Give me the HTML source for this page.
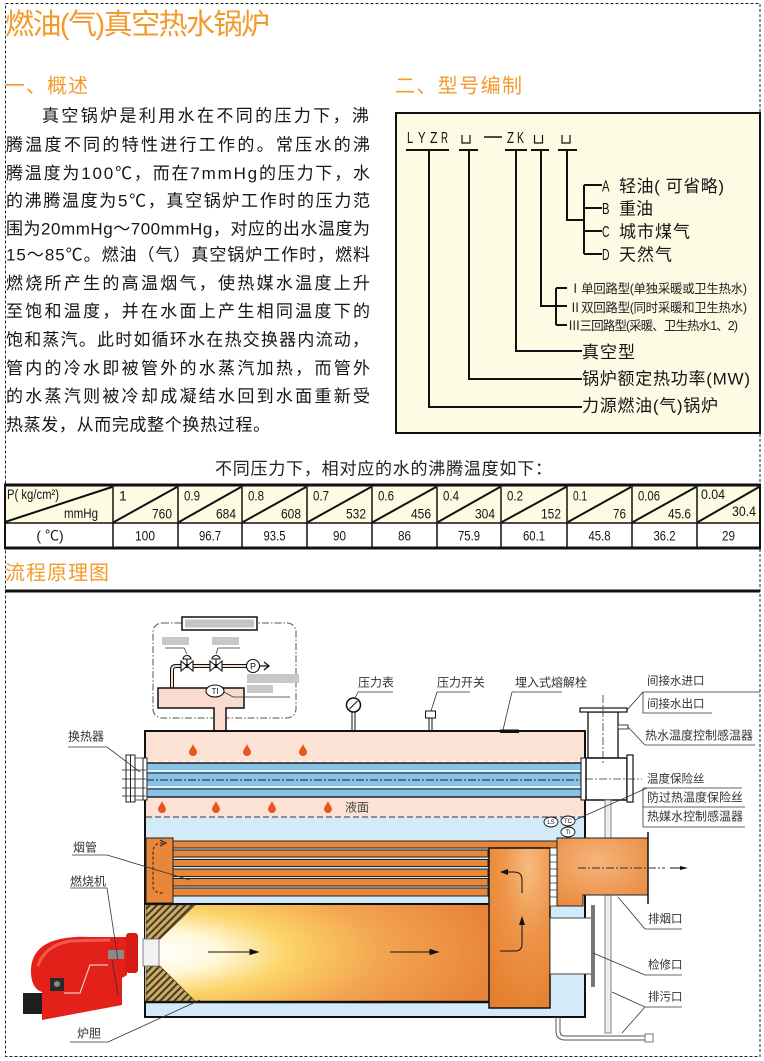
<!DOCTYPE html>
<html><head><meta charset="utf-8">
<style>
html,body{margin:0;padding:0;background:#fff;width:764px;height:1061px;overflow:hidden}
svg{display:block}
text{font-family:'Liberation Sans','Noto Sans CJK SC',sans-serif}
.b{font-size:17px;fill:#161616}
.h{fill:#f39a2c}
.s{font-size:12px;fill:#333}
.m{font-size:17px;fill:#151515}
.t{font-size:14px;fill:#151515}
.ld{stroke:#333;stroke-width:.8;fill:none}
</style></head><body>
<svg width="764" height="1061" viewBox="0 0 764 1061" xmlns="http://www.w3.org/2000/svg">
<defs>
<pattern id="hat" width="5" height="5" patternUnits="userSpaceOnUse" patternTransform="rotate(45)">
<rect width="5" height="5" fill="#c9ab6a"/>
<line x1="1" y1="0" x2="1" y2="5" stroke="#4a3a1a" stroke-width="2"/>
</pattern>
<radialGradient id="fl" gradientUnits="userSpaceOnUse" cx="160" cy="952" r="340" gradientTransform="translate(160 952) scale(1 0.33) translate(-160 -952)">
<stop offset="0" stop-color="#ffffff"/>
<stop offset="0.18" stop-color="#fff7d8"/>
<stop offset="0.38" stop-color="#fbd467"/>
<stop offset="0.65" stop-color="#f3a550"/>
<stop offset="1" stop-color="#e8843a"/>
</radialGradient>
<radialGradient id="rc" cx="0.65" cy="0.12" r="0.95">
<stop offset="0" stop-color="#f7bc80"/>
<stop offset="0.45" stop-color="#ee9448"/>
<stop offset="1" stop-color="#e5802f"/>
</radialGradient>
<radialGradient id="ot" cx="0.45" cy="0.35" r="0.8">
<stop offset="0" stop-color="#f5b57c"/>
<stop offset="1" stop-color="#e8873a"/>
</radialGradient>
</defs>

<rect x="5.5" y="3.5" width="754.5" height="1053" fill="none" stroke="#222" stroke-width="1" stroke-dasharray="3,2"/>

<text class="h" x="5" y="34" font-size="29" textLength="265">燃油(气)真空热水锅炉</text>
<text class="h" x="5" y="92.5" font-size="20" textLength="83">一、概述</text>
<text class="h" x="395" y="92.5" font-size="20" textLength="127">二、型号编制</text>

<text class="b" x="42" y="121.5" textLength="327">真空锅炉是利用水在不同的压力下，沸</text>
<text class="b" x="6" y="150.5" textLength="364">腾温度不同的特性进行工作的。常压水的沸</text>
<text class="b" x="6" y="179" textLength="364">腾温度为100℃，而在7mmHg的压力下，水</text>
<text class="b" x="6" y="206.5" textLength="364">的沸腾温度为5℃，真空锅炉工作时的压力范</text>
<text class="b" x="6" y="234.5" textLength="364">围为20mmHg～700mmHg，对应的出水温度为</text>
<text class="b" x="6" y="260.5" textLength="364">15～85℃。燃油（气）真空锅炉工作时，燃料</text>
<text class="b" x="6" y="289" textLength="364">燃烧所产生的高温烟气，使热媒水温度上升</text>
<text class="b" x="6" y="317" textLength="364">至饱和温度，并在水面上产生相同温度下的</text>
<text class="b" x="6" y="345.5" textLength="363">饱和蒸汽。此时如循环水在热交换器内流动，</text>
<text class="b" x="6" y="374" textLength="364">管内的冷水即被管外的水蒸汽加热，而管外</text>
<text class="b" x="6" y="402" textLength="364">的水蒸汽则被冷却成凝结水回到水面重新受</text>
<text class="b" x="6" y="430.5" textLength="264">热蒸发，从而完成整个换热过程。</text>

<rect x="396" y="113" width="364" height="320" fill="#fdfbe4" stroke="#111" stroke-width="2"/>
<g font-size="16" fill="#111">
<text x="407" y="143" textLength="6" lengthAdjust="spacingAndGlyphs">L</text>
<text x="418" y="143" textLength="7.5" lengthAdjust="spacingAndGlyphs">Y</text>
<text x="430" y="143" textLength="7.5" lengthAdjust="spacingAndGlyphs">Z</text>
<text x="441" y="143" textLength="7" lengthAdjust="spacingAndGlyphs">R</text>
<text x="507" y="143" textLength="7" lengthAdjust="spacingAndGlyphs">Z</text>
<text x="517" y="143" textLength="7" lengthAdjust="spacingAndGlyphs">K</text>
</g>
<g stroke="#111" fill="none">
<path d="M462 135V143H470V135M534.5 135V143H542.5V135M562 135V143H570V135" stroke-width="1.2"/>
<line x1="484" y1="137" x2="502" y2="137" stroke-width="1.5"/>
<path d="M406 150H449M459 150H478M505 150H527M531 150H549M558 150H577" stroke-width="2"/>
<path d="M429 150V407H582M469 150V379H582M516 150V351H582M541 150V306H556M556 288V325M556 288H567M556 306H567M556 325H567M567 150V220H584M584 185V254M584 185H602M584 208H602M584 231H602M584 254H602" stroke-width="2"/>
</g>
<g font-size="16" fill="#111">
<text x="602" y="191.5" textLength="7.5" lengthAdjust="spacingAndGlyphs">A</text>
<text x="602" y="214" textLength="7.5" lengthAdjust="spacingAndGlyphs">B</text>
<text x="602" y="237" textLength="7.5" lengthAdjust="spacingAndGlyphs">C</text>
<text x="602" y="260" textLength="7.5" lengthAdjust="spacingAndGlyphs">D</text>
</g>
<text class="m" x="619" y="192" textLength="105">轻油( 可省略)</text>
<text class="m" x="619" y="214.5">重油</text>
<text class="m" x="619" y="237.5" textLength="71">城市煤气</text>
<text class="m" x="619" y="260.5" textLength="53">天然气</text>
<g font-size="12.5" fill="#222">
<text x="569" y="292.8" textLength="178">Ⅰ单回路型(单独采暖或卫生热水)</text>
<text x="569" y="311.8" textLength="178">Ⅱ双回路型(同时采暖和卫生热水)</text>
<text x="568" y="329.8" textLength="170">Ⅲ三回路型(采暖、卫生热水1、2)</text>
</g>
<text class="m" x="582" y="358" textLength="53">真空型</text>
<text class="m" x="582" y="384.5" textLength="168">锅炉额定热功率(MW)</text>
<text class="m" x="582" y="411.5" textLength="136">力源燃油(气)锅炉</text>

<text x="215" y="474.5" font-size="17" fill="#222" textLength="337">不同压力下，相对应的水的沸腾温度如下：</text>

<rect x="4.5" y="485" width="755.5" height="38" fill="#fdfbe2"/>
<g stroke="#111" fill="none">
<line x1="4" y1="485" x2="761" y2="485" stroke-width="3"/>
<line x1="4" y1="548" x2="761" y2="548" stroke-width="3"/>
<line x1="4" y1="523" x2="761" y2="523" stroke-width="1.5"/>
<path d="M5 485V548M760 485V548" stroke-width="2"/>
<path d="M113 485V548M178 485V548M242 485V548M307 485V548M372 485V548M437 485V548M501 485V548M567 485V548M632 485V548M697 485V548" stroke-width="1.5"/>
<path d="M5 522L112 487M114 522L177 487M179 522L241 487M243 522L306 487M308 522L371 487M373 522L436 487M438 522L500 487M502 522L566 487M568 522L631 487M633 522L696 487M698 522L759 487" stroke-width="2"/>
</g>
<g class="t" font-size="13">
<text x="7" y="499" textLength="52" lengthAdjust="spacingAndGlyphs">P( kg/cm²)</text>
<text x="64" y="518" textLength="34" lengthAdjust="spacingAndGlyphs">mmHg</text>
</g>
<g class="t">
<text x="119" y="500.5">1</text>
<text x="184" y="500.5" textLength="16" lengthAdjust="spacingAndGlyphs">0.9</text>
<text x="248" y="500.5" textLength="16" lengthAdjust="spacingAndGlyphs">0.8</text>
<text x="313" y="500.5" textLength="16" lengthAdjust="spacingAndGlyphs">0.7</text>
<text x="378" y="500.5" textLength="16" lengthAdjust="spacingAndGlyphs">0.6</text>
<text x="443" y="500.5" textLength="16" lengthAdjust="spacingAndGlyphs">0.4</text>
<text x="507" y="500.5" textLength="16" lengthAdjust="spacingAndGlyphs">0.2</text>
<text x="573" y="500.5" textLength="14" lengthAdjust="spacingAndGlyphs">0.1</text>
<text x="638" y="500.5" textLength="22" lengthAdjust="spacingAndGlyphs">0.06</text>
<text x="701" y="499" textLength="24" lengthAdjust="spacingAndGlyphs">0.04</text>
<text x="152" y="518.5" textLength="20" lengthAdjust="spacingAndGlyphs">760</text>
<text x="216" y="518.5" textLength="20" lengthAdjust="spacingAndGlyphs">684</text>
<text x="281" y="518.5" textLength="20" lengthAdjust="spacingAndGlyphs">608</text>
<text x="346" y="518.5" textLength="20" lengthAdjust="spacingAndGlyphs">532</text>
<text x="411" y="518.5" textLength="20" lengthAdjust="spacingAndGlyphs">456</text>
<text x="475" y="518.5" textLength="20" lengthAdjust="spacingAndGlyphs">304</text>
<text x="541" y="518.5" textLength="20" lengthAdjust="spacingAndGlyphs">152</text>
<text x="613" y="518.5" textLength="13" lengthAdjust="spacingAndGlyphs">76</text>
<text x="668" y="518.5" textLength="23" lengthAdjust="spacingAndGlyphs">45.6</text>
<text x="732" y="516" textLength="24" lengthAdjust="spacingAndGlyphs">30.4</text>
</g>
<g class="t" text-anchor="middle">
<text x="50" y="540.5">( ℃)</text>
<text x="145" y="540.5" textLength="20" lengthAdjust="spacingAndGlyphs">100</text>
<text x="210" y="540.5" textLength="22" lengthAdjust="spacingAndGlyphs">96.7</text>
<text x="274.5" y="540.5" textLength="22" lengthAdjust="spacingAndGlyphs">93.5</text>
<text x="339.5" y="540.5" textLength="13" lengthAdjust="spacingAndGlyphs">90</text>
<text x="404.5" y="540.5" textLength="13" lengthAdjust="spacingAndGlyphs">86</text>
<text x="469" y="540.5" textLength="22" lengthAdjust="spacingAndGlyphs">75.9</text>
<text x="534" y="540.5" textLength="22" lengthAdjust="spacingAndGlyphs">60.1</text>
<text x="599.5" y="540.5" textLength="22" lengthAdjust="spacingAndGlyphs">45.8</text>
<text x="664.5" y="540.5" textLength="22" lengthAdjust="spacingAndGlyphs">36.2</text>
<text x="728.5" y="540.5" textLength="13" lengthAdjust="spacingAndGlyphs">29</text>
</g>

<text class="h" x="5" y="579.5" font-size="20" textLength="104">流程原理图</text>

<line x1="5" y1="591" x2="760" y2="591" stroke="#111" stroke-width="3"/>

<rect x="153" y="623" width="143" height="95" rx="9" fill="none" stroke="#555" stroke-width="1" stroke-dasharray="7,2,1.5,2"/>
<rect x="182" y="617" width="75" height="13" fill="#fff" stroke="#111" stroke-width="1.5"/>
<rect x="185" y="619.5" width="69" height="8" fill="#c4c4c4"/>
<rect x="162" y="637" width="27" height="8" fill="#c8c8c8"/>
<rect x="212" y="637" width="27" height="8" fill="#c8c8c8"/>
<path class="ld" d="M165 648H184L187 654M240 648H218L216 654"/>
<path d="M172 688V670Q172 666 176 666H247" fill="none" stroke="#111" stroke-width="4"/>
<path d="M172 688V670Q172 666 176 666H247" fill="none" stroke="#f9d9cc" stroke-width="2"/>
<g stroke="#111" stroke-width="1.1" fill="#fff">
<polygon points="181,661 193,671 193,661 181,671"/>
<polygon points="210,661 222,671 222,661 210,671"/>
<path d="M183 659A4 3.5 0 0 1 191 659Z"/>
<path d="M212 659A4 3.5 0 0 1 220 659Z"/>
<line x1="187" y1="659" x2="187" y2="666"/>
<line x1="216" y1="659" x2="216" y2="666"/>
<circle cx="253" cy="666" r="6.5"/>
</g>
<text x="253" y="669.5" font-size="9" text-anchor="middle" fill="#111">P</text>
<path d="M259.5 666H268M264 662L269 666L264 670" fill="none" stroke="#111" stroke-width="1.3"/>
<path d="M158 688H244V708H226V731H214V708H158Z" fill="#fadbcf" stroke="#111" stroke-width="1.5"/>
<ellipse cx="215" cy="691" rx="9" ry="6" fill="#fff" stroke="#111" stroke-width="1.1"/>
<text x="215" y="694" font-size="8" text-anchor="middle" fill="#111">TI</text>
<rect x="247" y="674" width="52" height="9" fill="#c8c8c8"/>
<rect x="247" y="685" width="26" height="8" fill="#c8c8c8"/>
<path class="ld" d="M224 692L233 697H290"/>

<rect x="145" y="731" width="440" height="286" fill="#d3ebf9" stroke="#111" stroke-width="2"/>
<rect x="146" y="732" width="438" height="85" fill="#fbe2d5"/>
<rect x="146" y="763" width="438" height="34" fill="#86c3e6"/>
<g fill="none">
<line x1="146" y1="763" x2="584" y2="763" stroke="#222" stroke-width="1.5"/>
<line x1="146" y1="761" x2="584" y2="761" stroke="#fff" stroke-width="1" stroke-dasharray="4,5"/>
<line x1="146" y1="771" x2="584" y2="771" stroke="#fff" stroke-width="1.5"/>
<line x1="146" y1="773" x2="584" y2="773" stroke="#222" stroke-width="1"/>
<line x1="146" y1="780" x2="584" y2="780" stroke="#222" stroke-width="1" stroke-dasharray="8,2,2,2"/>
<line x1="146" y1="787" x2="584" y2="787" stroke="#fff" stroke-width="1.5"/>
<line x1="146" y1="789" x2="584" y2="789" stroke="#222" stroke-width="1"/>
<line x1="146" y1="797" x2="584" y2="797" stroke="#222" stroke-width="1.5"/>
<line x1="146" y1="817" x2="584" y2="817" stroke="#333" stroke-width="1" stroke-dasharray="6,3"/>
</g>
<g fill="#e8541e">
<path d="M193 744C194 747 197 750 197 752A4 4 0 0 1 189 752C189 750 192 747 193 744Z"/>
<path d="M247 744C248 747 251 750 251 752A4 4 0 0 1 243 752C243 750 246 747 247 744Z"/>
<path d="M303 744C304 747 307 750 307 752A4 4 0 0 1 299 752C299 750 302 747 303 744Z"/>
<path d="M162 801C163 804 166 807 166 809A4 4 0 0 1 158 809C158 807 161 804 162 801Z"/>
<path d="M216 801C217 804 220 807 220 809A4 4 0 0 1 212 809C212 807 215 804 216 801Z"/>
<path d="M272 801C273 804 276 807 276 809A4 4 0 0 1 268 809C268 807 271 804 272 801Z"/>
<path d="M328 801C329 804 332 807 332 809A4 4 0 0 1 324 809C324 807 327 804 328 801Z"/>
</g>
<text x="345" y="811.5" font-size="12" fill="#444">液面</text>

<g stroke="#111" fill="#fff">
<path d="M352 712V731M355 712V731" stroke-width="1"/>
<circle cx="353.5" cy="705" r="7" stroke-width="1.5"/>
<line x1="349.5" y1="709" x2="357.5" y2="701" stroke-width="1"/>
<path d="M429 718V731M432 718V731" stroke-width="1"/>
<rect x="425.5" y="711" width="10" height="7" stroke-width="1"/>
</g>
<rect x="500" y="729.5" width="19" height="3.5" fill="#111"/>
<text class="s" x="358" y="686.5">压力表</text>
<path class="ld" d="M358 692H393M358 692L355 698"/>
<text class="s" x="437" y="686.5">压力开关</text>
<path class="ld" d="M437 692H470M437 692L431 711"/>
<text class="s" x="515" y="686.5">埋入式熔解栓</text>
<path class="ld" d="M512 692H562M512 692L503 730"/>

<g stroke="#222" stroke-width="1" fill="#fff">
<rect x="126" y="755" width="4.5" height="47"/>
<rect x="130.5" y="755" width="4.5" height="47"/>
<rect x="143" y="758" width="4" height="42"/>
<path d="M122 770H146M122 779H146M122 788H146M122 796H146M135 758H143M135 800H143" fill="none" stroke-width=".8"/>
</g>
<text class="s" x="68" y="740.5">换热器</text>
<path class="ld" d="M68 747H107L140 772"/>

<g stroke="#111" fill="#fff">
<rect x="588" y="712" width="30" height="46" stroke-width="1.3"/>
<rect x="580" y="708" width="47" height="4" stroke-width="1.2"/>
<rect x="581" y="758" width="5" height="42" stroke-width="1"/>
<rect x="586" y="758" width="41" height="42" stroke-width="1.5"/>
<rect x="627" y="755" width="6" height="47" stroke-width="1.2"/>
<rect x="618" y="725" width="10" height="4" stroke-width=".8"/>
</g>
<path d="M603 695V765M585 779H642" fill="none" stroke="#333" stroke-width=".8" stroke-dasharray="8,2,2,2"/>
<rect x="605" y="800" width="6" height="233" fill="#eee" stroke="#666" stroke-width=".8"/>

<rect x="146" y="838" width="27" height="65" fill="#e8873a" stroke="#222" stroke-width="1"/>
<g fill="#e8873a" stroke="#222" stroke-width="1">
<rect x="173" y="841" width="384" height="7"/>
<rect x="173" y="850" width="315" height="7"/>
<rect x="173" y="859.5" width="315" height="7"/>
<rect x="173" y="869" width="315" height="7.5"/>
<rect x="173" y="878.5" width="315" height="7.5"/>
<rect x="173" y="888" width="315" height="8"/>
</g>
<path d="M163 843Q153 843 153 852V886Q153 893 163 893" fill="none" stroke="#222" stroke-width="1" stroke-dasharray="3,2"/>
<path d="M160 840L166 843L160 846" fill="none" stroke="#222" stroke-width="1"/>

<rect x="145" y="904" width="344" height="98" fill="url(#fl)"/>
<line x1="145" y1="904" x2="489" y2="904" stroke="#111" stroke-width="2"/>
<line x1="145" y1="1002" x2="489" y2="1002" stroke="#111" stroke-width="2.5"/>
<path d="M146 905H195L160 939H146Z" fill="url(#hat)" stroke="#333" stroke-width=".6"/>
<path d="M146 966H160L195 1001H146Z" fill="url(#hat)" stroke="#333" stroke-width=".6"/>
<rect x="143" y="939" width="16" height="27" fill="#f2f2f2" stroke="#666" stroke-width=".8"/>
<g stroke="#111" stroke-width="1" fill="#111">
<line x1="208" y1="952" x2="252" y2="952"/>
<polygon points="250,949.5 258,952 250,954.5"/>
<line x1="390" y1="952" x2="432" y2="952"/>
<polygon points="430,949.5 438,952 430,954.5"/>
</g>

<rect x="489" y="848" width="61" height="160" fill="url(#rc)" stroke="#111" stroke-width="1.5"/>
<g fill="none" stroke="#111" stroke-width="1">
<path d="M500 951H515Q522 951 522 944V924"/>
<path d="M522 893V880Q522 872 514 872H506"/>
</g>
<polygon points="519,925 522,916 525,925" fill="#111"/>
<polygon points="508,869 500,872 508,875" fill="#111"/>
<rect x="550" y="848" width="7" height="58" fill="#fff" stroke="#333" stroke-width=".8"/>
<path d="M550 855H557M550 862H557M550 869H557M550 876H557M550 883H557M550 890H557M550 897H557" stroke="#333" stroke-width=".8"/>

<path d="M557 838H648V895H583V906H557Z" fill="url(#ot)" stroke="#222" stroke-width="1"/>
<line x1="648" y1="832" x2="648" y2="904" stroke="#111" stroke-width="1.5"/>
<path d="M578 868H665" stroke="#333" stroke-width=".9" stroke-dasharray="8,2,2,2"/>
<line x1="670" y1="868" x2="682" y2="868" stroke="#111" stroke-width="1"/>
<polygon points="680,866 688,868 680,870" fill="#111"/>

<rect x="550" y="918" width="42" height="56" fill="#fff" stroke="#444" stroke-width="1"/>
<rect x="591" y="905" width="4" height="82" fill="#777"/>

<g stroke="#111" stroke-width=".9" fill="#fff">
<ellipse cx="551" cy="822" rx="7" ry="5"/>
<ellipse cx="568" cy="821" rx="7" ry="5"/>
<ellipse cx="568" cy="832" rx="7" ry="5"/>
</g>
<g font-size="6" text-anchor="middle" fill="#111">
<text x="551" y="824">LS</text><text x="568" y="823">TC</text><text x="568" y="834">TI</text>
</g>

<path d="M556 1017V1031Q556 1040 565 1040H646M560 1017V1031Q560 1036 565 1036H646" fill="none" stroke="#555" stroke-width="1"/>
<rect x="645" y="1034" width="8" height="8" fill="#fff" stroke="#555" stroke-width=".8"/>

<g class="s">
<text x="647" y="684.5" font-size="11.5">间接水进口</text>
<text x="647" y="707.5" font-size="11.5">间接水出口</text>
<text x="645" y="739.5" font-size="12">热水温度控制感温器</text>
<text x="647" y="782.5" font-size="11.5">温度保险丝</text>
<text x="647" y="801.5" font-size="12">防过热温度保险丝</text>
<text x="647" y="820.5" font-size="12">热媒水控制感温器</text>
<text x="648" y="922.5" font-size="11.5">排烟口</text>
<text x="648" y="968.5" font-size="11.5">检修口</text>
<text x="648" y="1000.5" font-size="11.5">排污口</text>
</g>
<g class="ld">
<path d="M627 710L643 692H760M643 692V713H712"/>
<path d="M628 727L645 745H755"/>
<path d="M643 788H742M643 807H745M643 827H745M643 788V827"/>
<path d="M575 820L647 788"/>
<path d="M618 897L645 929H682"/>
<path d="M593 953L645 975H682"/>
<path d="M612 992L645 1007H682M622 1033L645 1007"/>
</g>

<rect x="23" y="993" width="20" height="21" fill="#1e1e1e"/>
<path d="M42 1020L42 992Q30 988 31 968Q33 945 60 939Q75 936 90 937L127 937L127 975L122 978L122 1005Z" fill="#e3211a"/>
<path d="M38 966Q44 946 70 941L110 940" fill="none" stroke="#f37363" stroke-width="3" opacity=".7"/>
<rect x="126" y="933" width="12" height="40" rx="3" fill="#d61b14"/>
<rect x="50" y="978" width="14" height="13" fill="#2a2a2a"/>
<circle cx="57" cy="984" r="3" fill="#888"/>
<rect x="108" y="950" width="16" height="9" fill="#8a8a8a"/>
<path d="M64 993H80L90 965H108" fill="none" stroke="#eee" stroke-width="1"/>
<path d="M112 960L118 995" fill="none" stroke="#333" stroke-width=".8"/>

<text class="s" x="73" y="851.5">烟管</text>
<path class="ld" d="M72 855H107L190 880"/>
<text class="s" x="70" y="885.5">燃烧机</text>
<path class="ld" d="M70 888H107L118 960"/>
<text class="s" x="77" y="1037.5" font-size="11.5">炉胆</text>
<path class="ld" d="M70 1042H108L200 1000"/>
</svg>
</body></html>
